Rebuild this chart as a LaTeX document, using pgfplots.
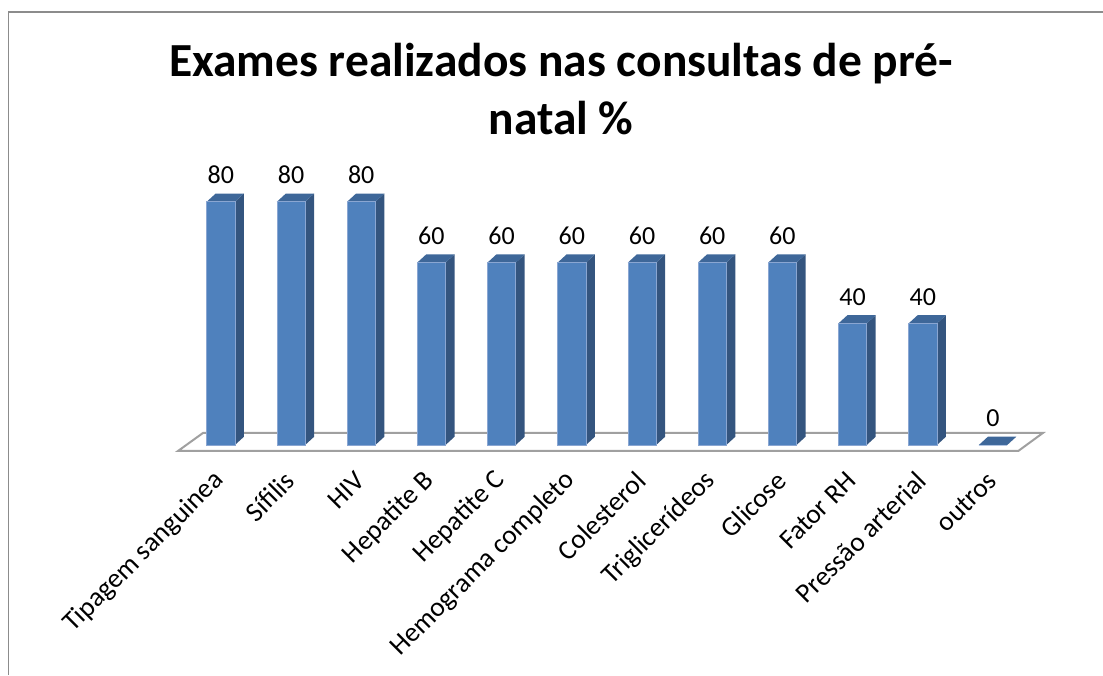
\documentclass[border=0pt]{standalone}
\usepackage{pgfplots}
\pgfplotsset{compat=1.18}
\usepackage{fontspec}
\setmainfont{Carlito}
\definecolor{barfront}{HTML}{4F81BD}
\definecolor{barside}{HTML}{34557F}
\definecolor{bartop}{HTML}{3E6799}
\definecolor{baredge}{HTML}{8AA6D2}
\definecolor{floorline}{HTML}{A0A0A0}
\definecolor{frameline}{HTML}{8C8C8C}

% 3D bar mark: front face, right side and top, height from the data value
\pgfdeclareplotmark{bar3d}{%
  \pgfmathsetlengthmacro{\hh}{\rawy*2.28pt}%
  \pgfsetlinewidth{0.5pt}%
  \pgfsetstrokecolor{baredge}%
  % side
  \pgfsetfillcolor{barside}%
  \pgfpathmoveto{\pgfqpoint{10.6pt}{-\hh}}%
  \pgfpathlineto{\pgfpoint{17.35pt}{-\hh+6.2pt}}%
  \pgfpathlineto{\pgfqpoint{17.35pt}{6.2pt}}%
  \pgfpathlineto{\pgfqpoint{10.6pt}{0pt}}%
  \pgfpathclose
  \pgfusepath{fill}%
  % top
  \pgfsetfillcolor{bartop}%
  \pgfpathmoveto{\pgfqpoint{-10.6pt}{0pt}}%
  \pgfpathlineto{\pgfqpoint{-3.85pt}{6.2pt}}%
  \pgfpathlineto{\pgfqpoint{17.35pt}{6.2pt}}%
  \pgfpathlineto{\pgfqpoint{10.6pt}{0pt}}%
  \pgfpathclose
  \pgfusepath{fill}%
  % front
  \pgfsetfillcolor{barfront}%
  \pgfpathrectangle{\pgfpoint{-10.6pt}{-\hh}}{\pgfpoint{21.2pt}{\hh}}%
  \pgfusepath{fill,stroke}%
}

\begin{document}
\begin{tikzpicture}
\path[use as bounding box] (0,0) rectangle (827.25pt,506.25pt);
\draw[frameline, line width=1.4pt] (6.4pt,0pt) -- (6.4pt,497.5pt) -- (827.25pt,497.5pt);
\node[anchor=base, font=\fontsize{35.6}{42}\selectfont\bfseries] at (420.75pt,448.5pt) {Exames realizados nas consultas de pré-};
\node[anchor=base, font=\fontsize{35.6}{42}\selectfont\bfseries] at (420.75pt,405pt) {natal \%};
\begin{axis}[
  at={(165.6pt,172.5pt)},
  anchor=origin,
  scale only axis,
  x=52.65pt, y=2.28pt,
  xmin=-0.8, xmax=11.8, ymin=-10, ymax=90,
  axis line style={draw=none},
  xtick={0,...,11},
  xticklabels={Tipagem sanguinea,Sífilis,HIV,Hepatite B,Hepatite C,Hemograma completo,Colesterol,Triglicerídeos,Glicose,Fator RH,Pressão arterial,outros},
  xtick style={draw=none},
  ytick=\empty,
  xticklabel style={rotate=45, anchor=east, font=\fontsize{20.5}{24}\selectfont, inner sep=1pt},
  /pgf/number format/assume math mode=true,
  clip=false,
]
\draw[floorline, line width=1.5pt] (axis cs:-0.61,-1.97) -- (axis cs:11.36,-1.97) -- (axis cs:11.71,3.95) -- (axis cs:-0.254,3.95) -- cycle;
\addplot[only marks, mark=bar3d,
  visualization depends on={rawy \as \rawy},
  nodes near coords,
  nodes near coords style={font=\fontsize{19.5}{23}\selectfont, anchor=base, inner sep=0pt, yshift=13.5pt, text=black},
] coordinates {
(0,80) (1,80) (2,80) (3,60) (4,60) (5,60) (6,60) (7,60) (8,60) (9,40) (10,40) (11,0)
};
\end{axis}
\end{tikzpicture}
\end{document}
